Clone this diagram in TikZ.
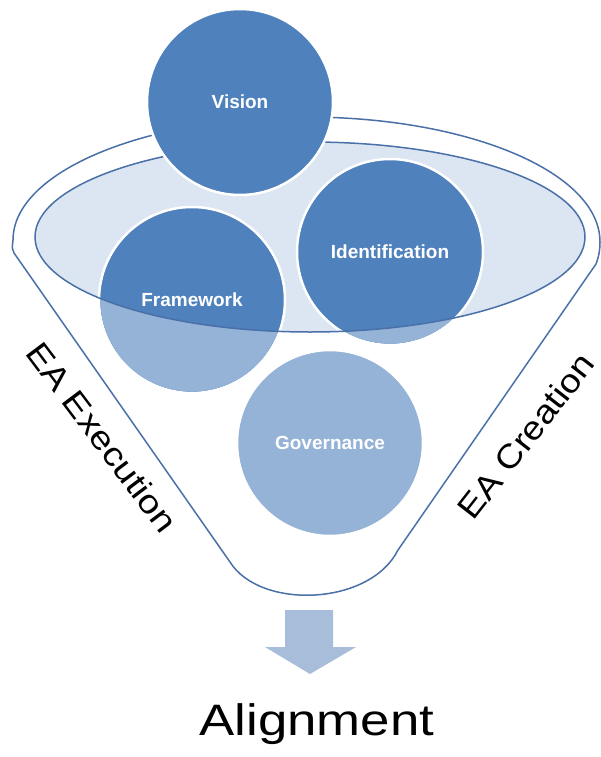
\documentclass[tikz,border=0pt]{standalone}
\usepackage{fontspec}
\setmainfont{Liberation Sans}
\usetikzlibrary{positioning}
\definecolor{darkblue}{HTML}{4F81BD}
\definecolor{lightblue}{HTML}{95B3D7}
\definecolor{paleblue}{HTML}{DCE6F2}
\definecolor{linecol}{HTML}{4A70A8}
\definecolor{arrowcol}{HTML}{A7BDDA}
\begin{document}
\begin{tikzpicture}[x=1pt,y=-1pt,
    funnel/.style={draw=linecol,line width=1.5pt},
    ball/.style={circle,minimum size=186pt,inner sep=0pt,draw=white,line width=2.5pt,
        text=white,font=\bfseries\fontsize{19}{22}\selectfont},
    side/.style={inner sep=0pt,font=\fontsize{33}{36}\selectfont}]
    \useasboundingbox (0,0) rectangle (601,757);
    % funnel body
    \draw[funnel,fill=white] (13,240) .. controls (13,172) and (144,117) .. (306,117)
        .. controls (468,117) and (600,172) .. (600,242)
        .. controls (600,252) and (598,259) .. (596,264) -- (398,550)
        .. controls (370,606) and (260,610) .. (230,562) -- (14,253)
        .. controls (12,249) .. cycle;
    \fill[paleblue] (310,237) ellipse [x radius=275, y radius=95];
    % circles
    \node[ball,fill=darkblue] (framework) at (192,300) {Framework};
    \node[ball,fill=darkblue] (identification) at (390,252) {Identification};
    \node[ball,fill=lightblue] (governance) at (330,443) {Governance};
    \begin{scope}[even odd rule]
        \clip (0,0) rectangle (601,757) (310,237) ellipse [x radius=275, y radius=95];
        \fill[lightblue] (framework.center) circle [radius=91.6];
        \fill[lightblue] (identification.center) circle [radius=91.6];
    \end{scope}
    \draw[funnel] (310,237) ellipse [x radius=275, y radius=95];
    \node[ball,fill=darkblue] (vision) at (240,102) {Vision};
    % output
    \fill[arrowcol] (285,610) -- (333,610) -- (333,647) -- (356,647) -- (310,674)
        -- (265,647) -- (285,647) -- cycle;
    \node[font=\fontsize{44}{48}\selectfont,anchor=base] (alignment) at (317,735) {\scalebox{1.2}[1]{Alignment}};
    \node[side,rotate=-53] (execution) at (102,437) {\scalebox{1.15}[1]{EA Execution}};
    \node[side,rotate=52] (creation) at (526,436) {\scalebox{1.12}[1]{EA Creation}};
\end{tikzpicture}
\end{document}
